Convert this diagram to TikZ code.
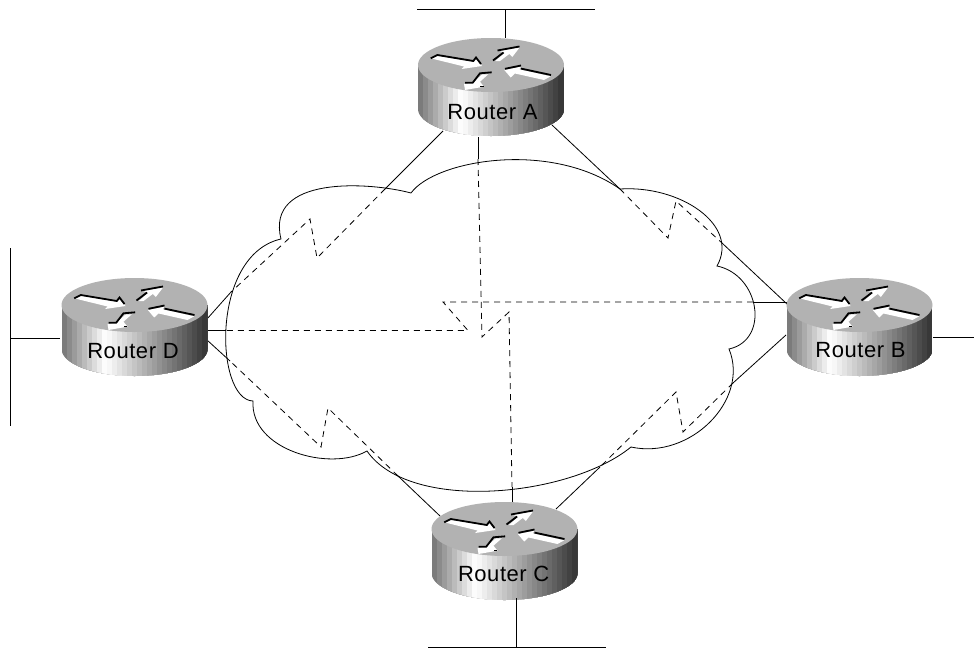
\documentclass[tikz,border=0pt]{standalone}
\usepackage{fontspec}
\setmainfont{Liberation Sans}[LetterSpace=2.5]
\tikzset{
  link/.style={line width=.8pt},
  tunnel/.style={line width=.8pt,dash pattern=on 6pt off 5pt},
  routertop/.style={fill=black!30},
  routerlabel/.style={inner sep=0pt,font=\fontsize{22}{26}\selectfont},
  arrowbody/.style={fill=white},
  arrowedge/.style={line width=1.8pt,line join=miter}
}
\newcommand{\drawrouter}[5]{
  \begin{scope}[shift={(#2,#3)}]
    \begin{scope}
      \clip (-73,0) -- (-73,44) arc[start angle=180,end angle=360,x radius=73pt,y radius=27pt] -- (73,0) -- cycle;
      \foreach \strip in {0,...,28}{
        \pgfmathsetmacro{\frac}{(\strip+.5)/29}
        \pgfmathsetmacro{\tone}{\frac<.3 ? 55-55*\frac/.3 : 80*(\frac-.3)/.7}
        \fill[black!\tone] (-73+5*\strip,-1) rectangle (73,75);
      }
    \end{scope}
    \fill[routertop] (0,0) ellipse[x radius=73pt,y radius=27pt];
    % four arrows on the lid
    \fill[arrowbody] (-60.3,-6.7) -- (-53.7,-9.3) -- (-17.7,-3.3) -- (-15,-6.7) -- (-9,1) -- (-29.3,4) -- (-27,1.5) -- cycle;
    \draw[arrowedge] (-60.3,-6.7) -- (-53.7,-10) -- (-17.7,-4) -- (-15,-7.5) -- (-10,-1);
    \fill[arrowbody] (7.7,-14.3) -- (28.7,-17.7) -- (21.3,-8) -- (18.3,-11) -- (9,-4) -- (4.3,-4) -- (13.7,-12.3) -- cycle;
    \draw[arrowedge] (6.5,-14.5) -- (28.5,-18.5);
    \draw[arrowedge] (2,-4.5) -- (12.5,-12.5);
    \fill[arrowbody] (13.3,5) -- (30,1.7) -- (28.3,4.3) -- (59.7,11.3) -- (53,15) -- (24,8.5) -- (19.7,12.5) -- cycle;
    \draw[arrowedge] (14,3.8) -- (30,.5);
    \draw[arrowedge] (30,3.6) -- (60,10);
    \fill[arrowbody] (-27,19) -- (-17.7,17.3) -- (-8.7,9.3) -- (-2.7,9.3) -- (-11,16.7) -- (-7,21.7) -- (-26,25) -- cycle;
    \draw[arrowedge] (-26,17.7) -- (-18.3,17.7) -- (-11,8.3) -- (.7,7.3);
    \fill (-11,20.5) rectangle (-7.5,22);
    \node[routerlabel] (router#1) at (#4,#5) {Router #1};
  \end{scope}
}
\begin{document}
\begin{tikzpicture}[x=1pt,y=-1pt]
\useasboundingbox (0,0) rectangle (974,648);
% cloud
\draw[link] (411,193) .. controls (435,160) and (550,140) .. (620,189)
  .. controls (680,185) and (740,225) .. (717,266)
  .. controls (760,275) and (770,340) .. (729,349)
  .. controls (750,400) and (690,460) .. (631,447)
  .. controls (570,497) and (410,513) .. (367,451)
  .. controls (330,472) and (250,450) .. (253,401)
  .. controls (215,400) and (210,255) .. (281,239)
  .. controls (265,175) and (370,182) .. (411,193);
% ends of the connectors
\coordinate (rimAD) at (443,131);
\coordinate (edgeAD) at (385,189);
\coordinate (boltADa) at (317,258);
\coordinate (boltADb) at (310,219);
\coordinate (edgeDA) at (231,292);
\coordinate (rimDA) at (207,319);
\coordinate (rimAB) at (552,125);
\coordinate (edgeAB) at (620,189);
\coordinate (boltABa) at (668,238);
\coordinate (boltABb) at (676,201);
\coordinate (edgeBA) at (722,243);
\coordinate (rimBA) at (787,304);
\coordinate (rimBC) at (786,335);
\coordinate (edgeBC) at (733,383);
\coordinate (boltBCa) at (683,432);
\coordinate (boltBCb) at (676,392);
\coordinate (edgeCB) at (600,467);
\coordinate (rimCB) at (556,509);
\coordinate (rimCD) at (440,516);
\coordinate (edgeCD) at (398,476);
\coordinate (boltCDa) at (328,408);
\coordinate (boltCDb) at (321,447);
\coordinate (edgeDC) at (230,361);
\coordinate (rimDC) at (207,340);
\coordinate (rimAC) at (478,137);
\coordinate (edgeAC) at (478,159);
\coordinate (boltACa) at (482,337);
\coordinate (boltACb) at (509,312);
\coordinate (edgeCA) at (512,487);
\coordinate (rimCA) at (512,502);
\coordinate (rimBD) at (787,302);
\coordinate (edgeBD) at (753,302);
\coordinate (boltBDa) at (443,302);
\coordinate (boltBDb) at (468,330.5);
\coordinate (edgeDB) at (226,330.5);
\coordinate (rimDB) at (207,330.5);
% connectors
\draw[link] (rimAD) -- (edgeAD);
\draw[tunnel] (edgeAD) -- (boltADa) -- (boltADb) -- (edgeDA);
\draw[link] (edgeDA) -- (rimDA);
\draw[link] (rimAB) -- (edgeAB);
\draw[tunnel] (edgeAB) -- (boltABa) -- (boltABb) -- (edgeBA);
\draw[link] (edgeBA) -- (rimBA);
\draw[link] (rimBC) -- (edgeBC);
\draw[tunnel] (edgeBC) -- (boltBCa) -- (boltBCb) -- (edgeCB);
\draw[link] (edgeCB) -- (rimCB);
\draw[link] (rimCD) -- (edgeCD);
\draw[tunnel] (edgeCD) -- (boltCDa) -- (boltCDb) -- (edgeDC);
\draw[link] (edgeDC) -- (rimDC);
\draw[link] (rimAC) -- (edgeAC);
\draw[tunnel] (edgeAC) -- (boltACa) -- (boltACb) -- (edgeCA);
\draw[link] (edgeCA) -- (rimCA);
\draw[link] (rimBD) -- (edgeBD);
\draw[tunnel] (edgeBD) -- (boltBDa) -- (boltBDb) -- (edgeDB);
\draw[link] (edgeDB) -- (rimDB);
% routers
\foreach \tag/\cx/\cy/\lx/\ly in {A/491/65/1.5/47,B/859.5/305/1/45.5,C/504.5/529/-.8/44.5,D/134.5/305/-1.5/46}{
  \drawrouter{\tag}{\cx}{\cy}{\lx}{\ly}
}
% LAN segments
\coordinate (busAl) at (417,9);
\coordinate (busAr) at (595,9);
\coordinate (busAs) at (505,9);
\coordinate (portA) at (505,38);
\coordinate (busCl) at (428,647);
\coordinate (busCr) at (606,647);
\coordinate (busCs) at (516,647);
\coordinate (portC) at (516,598);
\coordinate (busDt) at (10.5,248);
\coordinate (busDb) at (10.5,426);
\coordinate (busDs) at (10.5,338);
\coordinate (portD) at (60,338);
\coordinate (portB) at (933,337.5);
\coordinate (endB) at (974,337.5);
\draw[link] (busAl) -- (busAr);
\draw[link] (busAs) -- (portA);
\draw[link] (busCl) -- (busCr);
\draw[link] (busCs) -- (portC);
\draw[link] (busDt) -- (busDb);
\draw[link] (busDs) -- (portD);
\draw[link] (portB) -- (endB);
\end{tikzpicture}
\end{document}
